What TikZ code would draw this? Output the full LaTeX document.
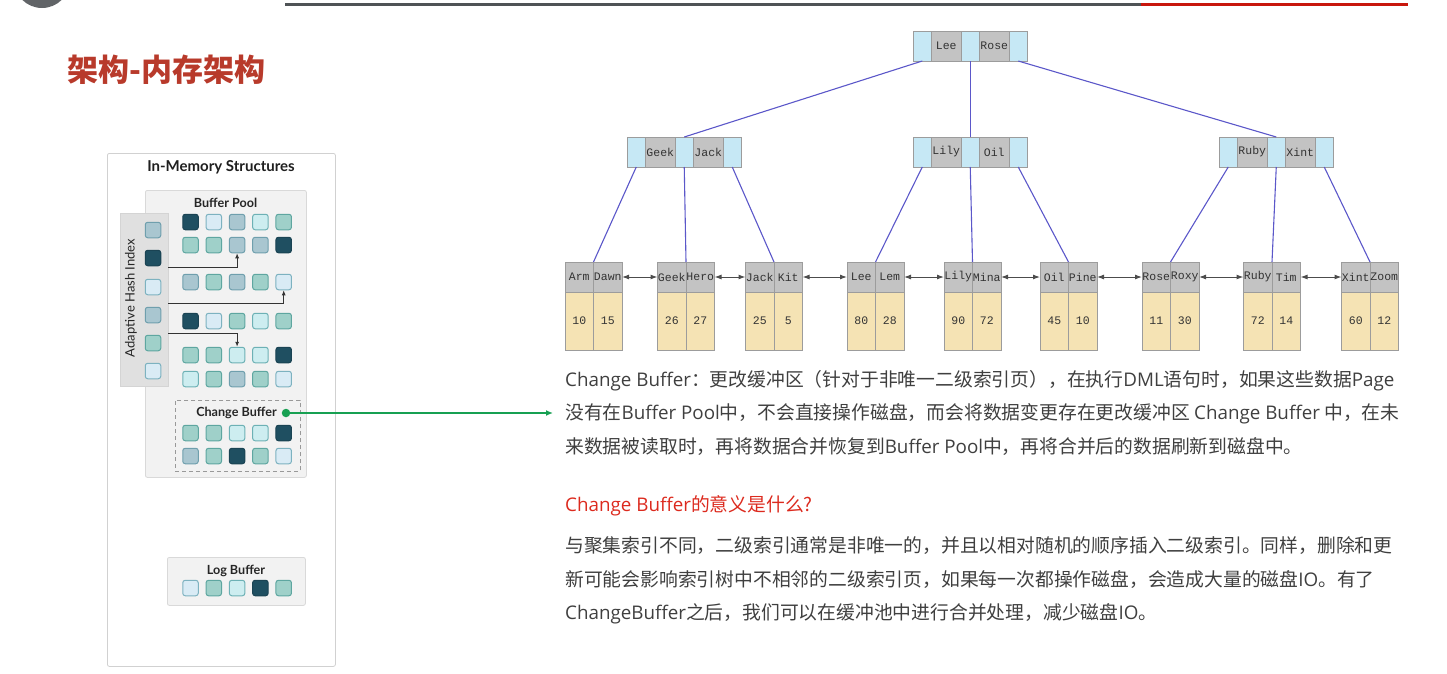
\documentclass[tikz,border=0pt]{standalone}
\usepackage{fontspec}
\setmainfont{Noto Sans CJK SC}
\newfontfamily\lat{Open Sans}
\newfontfamily\panelfont{Lato}
\newfontfamily\keyfont{Liberation Mono}
\usetikzlibrary{arrows.meta}

% square fills (f) and borders (b)
\definecolor{fD}{HTML}{1F4F61}\definecolor{bD}{HTML}{1A4353}
\definecolor{fL}{HTML}{D9EBF5}\definecolor{bL}{HTML}{7DB2C0}
\definecolor{fG}{HTML}{A9C6D0}\definecolor{bG}{HTML}{6F9FAD}
\definecolor{fT}{HTML}{9FD0C9}\definecolor{bT}{HTML}{5EA6A0}
\definecolor{fC}{HTML}{CDEDF0}\definecolor{bC}{HTML}{6DB1B5}
% page and tree colours
\definecolor{titlered}{HTML}{B83A2B}
\definecolor{headred}{HTML}{DC2A1E}
\definecolor{bodygrey}{HTML}{3F3F3F}
\definecolor{barred}{HTML}{C8170D}
\definecolor{bargrey}{HTML}{4F5356}
\definecolor{cbgreen}{HTML}{17A052}
\definecolor{ptrblue}{HTML}{C6E8F5}
\definecolor{keygrey}{HTML}{C3C3C3}
\definecolor{valtan}{HTML}{F5E3B4}
\definecolor{cellline}{HTML}{9C9C9C}
\definecolor{edgeblue}{HTML}{5B57C9}

\newcommand{\innernode}[5]{% name, left x, top y, key 1, key 2
  \node[ptrcell, anchor=north west] (#1-b1) at (#2,#3) {};
  \node[keycell, anchor=north west] (#1-k1) at (#1-b1.north east) {#4};
  \node[ptrcell, anchor=north west] (#1-b2) at (#1-k1.north east) {};
  \node[keycell, anchor=north west] (#1-k2) at (#1-b2.north east) {#5};
  \node[ptrcell, anchor=north west] (#1-b3) at (#1-k2.north east) {};
}
\newcommand{\leafnode}[6]{% name, left x, key 1, key 2, value 1, value 2
  \node[leafkey, anchor=north west] (#1-k1) at (#2,262) {#3};
  \node[leafkey, anchor=north west] (#1-k2) at (#1-k1.north east) {#4};
  \node[leafval, anchor=north west] (#1-v1) at (#1-k1.south west) {#5};
  \node[leafval, anchor=north west] (#1-v2) at (#1-k2.south west) {#6};
}

\begin{document}
\begin{tikzpicture}[x=1pt,y=-1pt,
  square/.style={minimum size=15.5pt, inner sep=0pt, rounded corners=2.5pt, line width=1pt, fill=f#1, draw=b#1},
  panelbox/.style={fill=#1, draw=black!15, line width=0.8pt, rounded corners=2pt},
  panellabel/.style={font=\panelfont\bfseries\fontsize{12.6}{14}\selectfont, text=black!85},
  ahiarrow/.style={draw=black!80, line width=0.9pt, -{Latex[length=5pt,width=4pt]}},
  ptrcell/.style={draw=cellline, fill=ptrblue, minimum width=18.5pt, minimum height=30pt, inner sep=0pt, outer sep=0pt, line width=0.6pt},
  keyfnt/.style={font=\keyfont\fontsize{11.5}{13}\selectfont, text=black!80},
  keycell/.style={keyfnt, draw=cellline, fill=keygrey, minimum width=29.5pt, minimum height=30pt, inner sep=0pt, outer sep=0pt, line width=0.6pt},
  leafkey/.style={keyfnt, draw=cellline, fill=keygrey, minimum width=28.5pt, minimum height=30pt, inner sep=0pt, outer sep=0pt, line width=0.6pt},
  leafval/.style={keyfnt, draw=cellline, fill=valtan, minimum width=28.5pt, minimum height=58pt, inner sep=0pt, outer sep=0pt, line width=0.6pt},
  treeedge/.style={draw=edgeblue, line width=1.1pt},
  leaflink/.style={draw=black!70, line width=1pt, {Latex[length=7pt,width=5pt]}-{Latex[length=7pt,width=5pt]}},
  bodytext/.style={anchor=base west, inner sep=0pt, text=bodygrey, font=\fontsize{18.8}{21}\selectfont},
]
\useasboundingbox (0,0) rectangle (1447,673);

% ---------- header strip ----------
\begin{scope}
  \clip (0,0) rectangle (1447,673);
  \fill[bargrey!90] (42,-20) circle (28);
\end{scope}
\coordinate (barL) at (285,4.5);
\coordinate (barM) at (1141,4.5);
\coordinate (barR) at (1408,4.5);
\draw[bargrey, line width=3pt] (barL) -- (barM);
\draw[barred, line width=3pt] (barM) -- (barR);

\node[anchor=west, inner sep=0pt, text=titlered, font=\bfseries\fontsize{31}{34}\selectfont] (title) at (67,70) {架构-内存架构};

% ---------- in-memory structures panel ----------
\node[panelbox=white, draw=black!18, minimum width=228pt, minimum height=513pt, anchor=north west] (panel) at (107,153) {};
\node[font=\panelfont\bfseries\fontsize{15}{17}\selectfont, text=black!88] (paneltitle) at (221,167) {In-Memory Structures};

\node[panelbox=black!5, minimum width=161pt, minimum height=287pt, anchor=north west] (bp) at (145,190) {};
\node[panellabel] (bptitle) at (225.5,203) {Buffer Pool};

\node[draw=black!40, dash pattern=on 4pt off 3pt, line width=0.9pt, minimum width=125pt, minimum height=71pt, anchor=north west] (cb) at (175,400) {};
\node[panellabel] (cbtitle) at (236.5,413) {Change Buffer};

\node[panelbox=black!5, minimum width=138pt, minimum height=48pt, anchor=north west] (lb) at (167,557) {};
\node[panellabel] (lbtitle) at (236,571) {Log Buffer};

% buffer pool pages
\foreach \row/\yy/\cols in {1/222/{D,L,G,C,T}, 2/245/{T,T,G,G,D}, 3/282/{G,T,G,T,L},
                             4/321/{D,L,T,C,T}, 5/355/{T,T,C,C,D}, 6/379/{C,T,G,T,L},
                             7/433/{T,T,C,C,D}, 8/456/{G,T,D,T,L}, 9/588/{L,T,C,D,T}} {
  \foreach \c [count=\i] in \cols {
    \node[square=\c] (bp-\row-\i) at ({190.5+23.3*(\i-1)},\yy) {};
  }
}

% adaptive hash index
\node[fill=black!12, draw=black!17, line width=0.8pt, minimum width=48pt, minimum height=173pt, anchor=north west] (ahi) at (120,213) {};
\node[rotate=90, font=\panelfont\fontsize{13}{15}\selectfont, text=black!85] (ahititle) at (131,298) {Adaptive Hash Index};
\foreach \c/\yy [count=\i] in {G/230, D/258, L/287, G/315, T/343, L/371} {
  \node[square=\c] (ahi-\i) at (153,\yy) {};
}
\coordinate (h1) at (168,267);
\coordinate (h2) at (168,303);
\coordinate (h3) at (168,333);
\draw[ahiarrow] (h1) -| (bp-2-3.south);
\draw[ahiarrow] (h2) -| (bp-3-5.south);
\draw[ahiarrow] (h3) -| (bp-5-3.north);

% change buffer pointer
\node[circle, fill=cbgreen, minimum size=8.5pt, inner sep=0pt] (cbdot) at (286,413) {};
\coordinate (cbtarget) at (553,413);
\draw[cbgreen, line width=1.4pt, -{Latex[length=7pt,width=6pt]}] (cbdot.east) -- (cbtarget);

% ---------- B+ tree ----------
\innernode{root}{913}{31}{Lee}{Rose}
\innernode{na}{627}{137}{Geek}{Jack}
\innernode{nb}{913}{137}{Lily}{Oil}
\innernode{nc}{1219}{137}{Ruby}{Xint}

\leafnode{la}{565}{Arm}{Dawn}{10}{15}
\leafnode{lb}{657.5}{Geek}{Hero}{26}{27}
\leafnode{lc}{745.5}{Jack}{Kit}{25}{5}
\leafnode{ld}{847}{Lee}{Lem}{80}{28}
\leafnode{le}{944}{Lily}{Mina}{90}{72}
\leafnode{lf}{1040}{Oil}{Pine}{45}{10}
\leafnode{lg}{1142}{Rose}{Roxy}{11}{30}
\leafnode{lh}{1243.5}{Ruby}{Tim}{72}{14}
\leafnode{li}{1341.5}{Xint}{Zoom}{60}{12}

\draw[treeedge] (root-b1.south) -- (na-b2.north);
\draw[treeedge] (root-b2.south) -- (nb-b2.north);
\draw[treeedge] (root-b3.south) -- (nc-b2.north);

\draw[treeedge] (na-b1.south) -- (la-k1.north east);
\draw[treeedge] (na-b2.south) -- (lb-k1.north east);
\draw[treeedge] (na-b3.south) -- (lc-k1.north east);
\draw[treeedge] (nb-b1.south) -- (ld-k1.north east);
\draw[treeedge] (nb-b2.south) -- (le-k1.north east);
\draw[treeedge] (nb-b3.south) -- (lf-k1.north east);
\draw[treeedge] (nc-b1.south) -- (lg-k1.north east);
\draw[treeedge] (nc-b2.south) -- (lh-k1.north east);
\draw[treeedge] (nc-b3.south) -- (li-k1.north east);

\foreach \a/\b in {la/lb, lb/lc, lc/ld, ld/le, le/lf, lf/lg, lg/lh, lh/li} {
  \draw[leaflink] (\a-k2.east) -- (\b-k1.west);
}

% ---------- explanation text ----------
\node[bodytext] (p1) at (565,386) {{\lat Change Buffer}：更改缓冲区（针对于非唯一二级索引页），在执行{\lat DML}语句时，如果这些数据{\lat Page}};
\node[bodytext] (p2) at (565,419) {没有在{\lat Buffer Pool}中，不会直接操作磁盘，而会将数据变更存在更改缓冲区 {\lat Change Buffer} 中，在未};
\node[bodytext] (p3) at (565,453) {来数据被读取时，再将数据合并恢复到{\lat Buffer Pool}中，再将合并后的数据刷新到磁盘中。};

\node[bodytext, text=headred] (q) at (565,511) {{\lat Change Buffer}的意义是什么?};

\node[bodytext] (a1) at (565,552) {与聚集索引不同，二级索引通常是非唯一的，并且以相对随机的顺序插入二级索引。同样，删除和更};
\node[bodytext] (a2) at (565,586) {新可能会影响索引树中不相邻的二级索引页，如果每一次都操作磁盘，会造成大量的磁盘{\lat IO}。有了};
\node[bodytext] (a3) at (565,619) {{\lat ChangeBuffer}之后，我们可以在缓冲池中进行合并处理，减少磁盘{\lat IO}。};
\end{tikzpicture}
\end{document}
